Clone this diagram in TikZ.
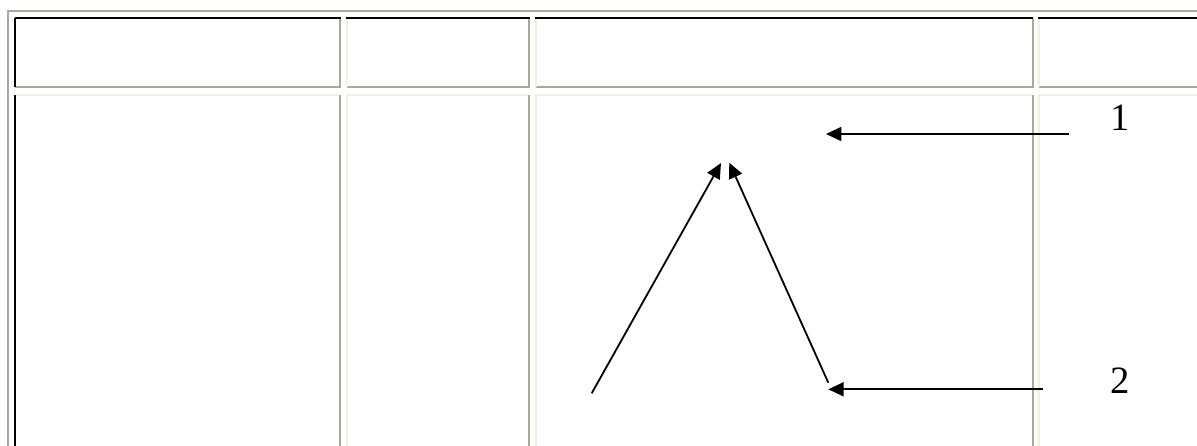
\documentclass[tikz,border=0pt]{standalone}
\usepackage{fontspec}
\setmainfont{Liberation Serif}
\usetikzlibrary{arrows.meta}
\definecolor{tgray}{HTML}{ACA899}
\definecolor{tcream}{HTML}{F1EFE2}
\begin{document}
\begin{tikzpicture}[x=0.75pt,y=-0.75pt,
  rule/.style={line width=1.5pt,line cap=butt},
  ptr/.style={line width=1.35pt,-{Triangle[length=11.5pt,width=10.5pt]}},
  lab/.style={inner sep=0pt,font=\fontsize{29}{34}\selectfont}]
\useasboundingbox (0,0) rectangle (1197,446);
\clip (0,0) rectangle (1197,446);
% outer table border
\draw[rule,tgray] (8.2,470) -- (8.2,11.2) -- (1230,11.2);
% header row cells
\foreach \l/\r/\lc in {15.2/339.8/black,346.5/529/tcream,535.8/1032.5/tcream,1038.8/1240/tcream}{
  \draw[rule,tgray] (\l,86.8) -- (\r,86.8) -- (\r,18);
  \draw[rule,\lc] (\l,86.8) -- (\l,18);
  \draw[rule,black] (\l-0.7,18) -- (\r+0.7,18);
}
% body row cells
\foreach \l/\r/\lc in {15.2/339.8/black,346.5/529/tcream,535.8/1032.5/tcream,1038.8/1240/tcream}{
  \draw[rule,tgray] (\r,470) -- (\r,95.2);
  \draw[rule,tcream] (\l-0.7,95.2) -- (\r-0.7,95.2);
  \draw[rule,\lc] (\l,470) -- (\l,95.2);
}
% labels
\node[lab] (l1) at (1120.5,117.5) {1};
\node[lab] (l2) at (1120.5,381) {2};
% arrow end points
\coordinate (a1s) at (1068.5,134);
\coordinate (a1e) at (826,134);
\coordinate (a2s) at (1043,389.3);
\coordinate (a2e) at (828.3,389.3);
\coordinate (a3s) at (591.7,393.3);
\coordinate (a3e) at (721,163);
\coordinate (a4s) at (828.3,382.7);
\coordinate (a4e) at (729.3,162.7);
\draw[ptr] (a1s) -- (a1e);
\draw[ptr] (a2s) -- (a2e);
\draw[ptr] (a3s) -- (a3e);
\draw[ptr] (a4s) -- (a4e);
\end{tikzpicture}
\end{document}
